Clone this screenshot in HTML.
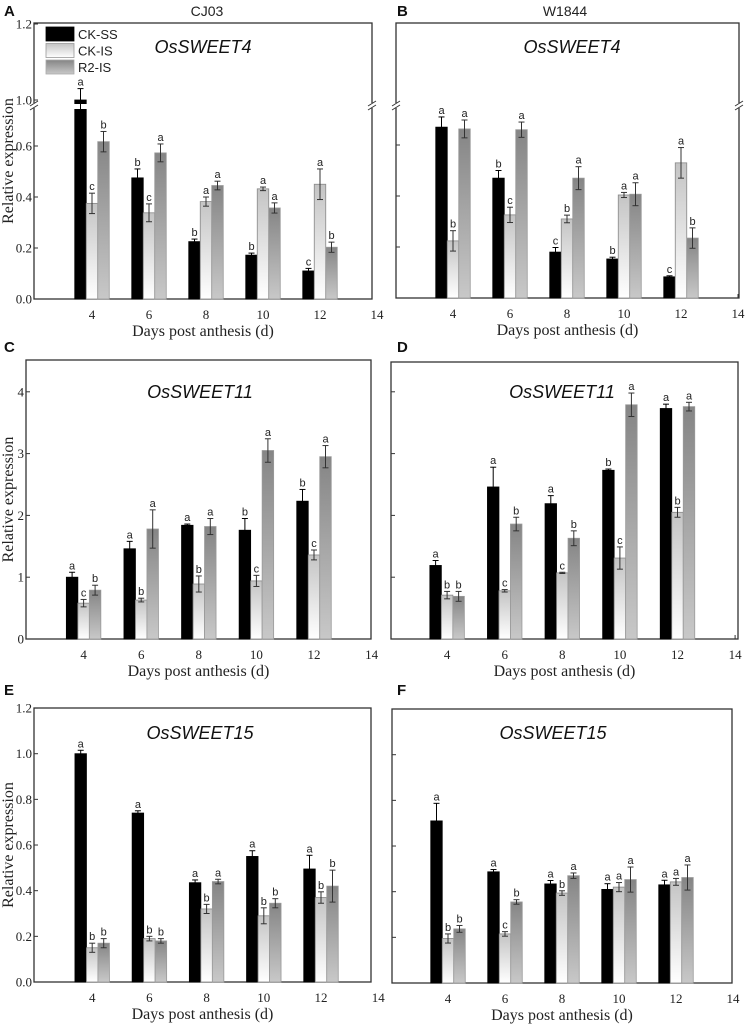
<!DOCTYPE html>
<html><head><meta charset="utf-8">
<style>
html,body{margin:0;padding:0;background:#fff;}
svg{display:block;}
.tk{font-family:"Liberation Serif",serif;font-size:13px;fill:#222;}
.ttl{font-family:"Liberation Serif",serif;font-size:16px;fill:#222;}
.lab{font-family:"Liberation Sans",sans-serif;font-size:11px;fill:#222;}
.gene{font-family:"Liberation Sans",sans-serif;font-size:18px;font-style:italic;fill:#111;}
.pl{font-family:"Liberation Sans",sans-serif;font-size:15px;font-weight:bold;fill:#111;}
.cv{font-family:"Liberation Sans",sans-serif;font-size:14px;fill:#222;}
.lg{font-family:"Liberation Sans",sans-serif;font-size:13px;fill:#222;}
</style></head><body>
<svg id="fig" width="746" height="1025" viewBox="0 0 746 1025" xmlns="http://www.w3.org/2000/svg">
<defs>
<linearGradient id="gIS" x1="0" y1="0" x2="0" y2="1"><stop offset="0" stop-color="#c4c4c4"/><stop offset="1" stop-color="#ffffff"/></linearGradient>
<linearGradient id="gR2" x1="0" y1="0" x2="0" y2="1"><stop offset="0" stop-color="#858585"/><stop offset="1" stop-color="#c8c8c8"/></linearGradient>
</defs>
<text class="pl" x="4" y="16">A</text>
<text class="cv" x="207" y="16" text-anchor="middle">CJ03</text>
<text class="pl" x="397" y="16">B</text>
<text class="cv" x="565" y="16" text-anchor="middle">W1844</text>
<text class="pl" x="4" y="352">C</text>
<text class="pl" x="397" y="352">D</text>
<text class="pl" x="4" y="695">E</text>
<text class="pl" x="397" y="695">F</text>
</svg>
<script>
// categories
const days = [4, 6, 8, 10, 12];
const xTicks = [4, 6, 8, 10, 12, 14];
const seriesNames = ["CK-SS", "CK-IS", "R2-IS"];
// Panel A (CJ03, OsSWEET4)
const aCKSS = [1.0, 0.475, 0.225, 0.172, 0.11];
const aCKIS = [0.375, 0.338, 0.382, 0.432, 0.45];
const aR2IS = [0.617, 0.573, 0.445, 0.357, 0.203];
const aErrSS = [0.03, 0.035, 0.01, 0.008, 0.01];
const aErrIS = [0.04, 0.035, 0.018, 0.007, 0.06];
const aErrR2 = [0.04, 0.035, 0.017, 0.02, 0.02];
const aLetSS = ["a","b","b","b","c"];
const aLetIS = ["c","c","a","a","a"];
const aLetR2 = ["b","a","a","a","b"];
// Panel B (W1844, OsSWEET4)
const bCKSS = [0.67, 0.47, 0.18, 0.153, 0.083];
const bCKIS = [0.224, 0.326, 0.31, 0.404, 0.53];
const bR2IS = [0.663, 0.66, 0.47, 0.407, 0.235];
const bErrSS = [0.04, 0.03, 0.018, 0.007, 0.004];
const bErrIS = [0.04, 0.03, 0.015, 0.01, 0.06];
const bErrR2 = [0.035, 0.03, 0.045, 0.045, 0.04];
const bLetSS = ["a","b","c","b","c"];
const bLetIS = ["b","c","b","a","a"];
const bLetR2 = ["a","a","a","a","b"];
// Panel C (CJ03, OsSWEET11)
const cCKSS = [1.0, 1.46, 1.84, 1.76, 2.23];
const cCKIS = [0.58, 0.63, 0.89, 0.94, 1.36];
const cR2IS = [0.79, 1.78, 1.82, 3.05, 2.95];
const cErrSS = [0.08, 0.12, 0.02, 0.19, 0.19];
const cErrIS = [0.06, 0.03, 0.13, 0.09, 0.08];
const cErrR2 = [0.08, 0.31, 0.13, 0.19, 0.18];
const cLetSS = ["a","a","a","b","b"];
const cLetIS = ["c","b","b","c","c"];
const cLetR2 = ["b","a","a","a","a"];
// Panel D (W1844, OsSWEET11)
const dCKSS = [1.19, 2.46, 2.19, 2.73, 3.73];
const dCKIS = [0.71, 0.78, 1.07, 1.31, 2.05];
const dR2IS = [0.69, 1.86, 1.63, 3.79, 3.76];
const dErrSS = [0.08, 0.32, 0.13, 0.02, 0.07];
const dErrIS = [0.06, 0.02, 0.01, 0.18, 0.08];
const dErrR2 = [0.08, 0.11, 0.12, 0.19, 0.07];
const dLetSS = ["a","a","a","b","a"];
const dLetIS = ["b","c","c","c","b"];
const dLetR2 = ["b","b","b","a","a"];
// Panel E (CJ03, OsSWEET15)
const eCKSS = [1.0, 0.74, 0.435, 0.55, 0.495];
const eCKIS = [0.15, 0.19, 0.32, 0.29, 0.37];
const eR2IS = [0.17, 0.18, 0.44, 0.345, 0.42];
const eErrSS = [0.015, 0.01, 0.012, 0.025, 0.06];
const eErrIS = [0.02, 0.01, 0.02, 0.035, 0.025];
const eErrR2 = [0.02, 0.01, 0.01, 0.02, 0.07];
const eLetSS = ["a","a","a","a","a"];
const eLetIS = ["b","b","b","b","b"];
const eLetR2 = ["b","b","a","b","b"];
// Panel F (W1844, OsSWEET15)
const fCKSS = [0.71, 0.487, 0.434, 0.41, 0.43];
const fCKIS = [0.195, 0.215, 0.394, 0.42, 0.443];
const fR2IS = [0.237, 0.355, 0.47, 0.453, 0.462];
const fErrSS = [0.077, 0.01, 0.015, 0.025, 0.02];
const fErrIS = [0.02, 0.01, 0.01, 0.02, 0.015];
const fErrR2 = [0.015, 0.01, 0.012, 0.055, 0.055];
const fLetSS = ["a","a","a","a","a"];
const fLetIS = ["b","c","b","a","a"];
const fLetR2 = ["b","b","a","a","a"];
// tick labels
const tickSweet4Low = ["0.0","0.2","0.4","0.6"];
const tickSweet4High = ["1.0","1.2"];
const tickSweet11 = ["0","1","2","3","4"];
const tickSweet15 = ["0.0","0.2","0.4","0.6","0.8","1.0","1.2"];

const svg = document.getElementById('fig');
const NS = 'http://www.w3.org/2000/svg';
function mk(tag, attrs, parent, text) {
  const e = document.createElementNS(NS, tag);
  for (const k in attrs) e.setAttribute(k, attrs[k]);
  if (text !== undefined) e.textContent = text;
  (parent || svg).appendChild(e);
  return e;
}

function panel(p) {
  const g = mk('g', {});
  
  
  const xs = v => p.x2 + (v - 2) * p.dx;
  const fr = mk('rect', {x: p.L, y: p.T, width: p.R - p.L, height: p.B - p.T, fill: 'none', stroke: '#333', 'stroke-width': 1.3}, g);
  
  
  xTicks.forEach(t => {
    const x = xs(t);
    if (x < p.R) mk('line', {x1: x, y1: p.B, x2: x, y2: p.B - 4, stroke: '#333'}, g);
    const tl = mk('text', {class: 'tk', x: x, y: p.B + 20, 'text-anchor': 'middle'}, g, String(t));
    
    
  });
  p.yTicks.forEach((t, i) => {
    const y = p.ys(t);
    mk('line', {x1: p.L, y1: y, x2: p.L + 4, y2: y, stroke: '#333'}, g);
    if (p.labels) {
      const yl = mk('text', {class: 'tk', x: p.L - 2, y: y + 4.5, 'text-anchor': 'end'}, g, p.yLabels[i]);
      
      
    }
  });
  const xt = mk('text', {class: 'ttl', x: (p.L + p.R) / 2, y: p.B + 37, 'text-anchor': 'middle'}, g, 'Days post anthesis (d)');
  
  
  if (p.labels) {
    const cy = (p.T + p.B) / 2;
    const yt = mk('text', {class: 'ttl', x: 0, y: 0, 'text-anchor': 'middle', transform: 'translate(13,' + cy + ') rotate(-90)'}, g, 'Relative expression');
    
    
  }
  const gt = mk('text', {class: 'gene', x: p.gx, y: p.gy, 'text-anchor': 'middle'}, g, p.gene);
  
  
  const w = 11.5;
  const fills = ['#000', 'url(#gIS)', 'url(#gR2)'];
  const strokes = ['#000', '#888', '#999'];
  const vals = [p.ss, p.is, p.r2], errs = [p.ess, p.eis, p.er2], lets = [p.lss, p.lis, p.lr2];
  days.forEach((d, i) => {
    for (let s = 0; s < 3; s++) {
      const cx = xs(d) + (s - 1) * w;
      const v = vals[s][i], e = errs[s][i];
      const yt = p.ys(v), y0 = p.ys(0);
      const b = mk('rect', {x: cx - w / 2, y: yt, width: w, height: y0 - yt, fill: fills[s], stroke: strokes[s], 'stroke-width': 0.8}, g);
      
      
      if (p.brk && v > p.brk.max) {
        mk('rect', {x: cx - w / 2 - 1, y: yt + 4, width: w + 2, height: 5, fill: '#fff'}, g);
      }
      const yu = p.ys(v + e), yd = p.ys(Math.max(0, v - e));
      const ec = s === 0 ? '#000' : '#333';
      mk('line', {x1: cx, y1: yu, x2: cx, y2: yd, stroke: ec, 'stroke-width': 1}, g);
      mk('line', {x1: cx - 3, y1: yu, x2: cx + 3, y2: yu, stroke: ec, 'stroke-width': 1}, g);
      if (s !== 0 || !p.brk || v <= p.brk.max) mk('line', {x1: cx - 3, y1: yd, x2: cx + 3, y2: yd, stroke: ec, 'stroke-width': 1}, g);
      const lt = mk('text', {class: 'lab', x: cx, y: yu - 3, 'text-anchor': 'middle'}, g, lets[s][i]);
      
      
    }
  });
  if (p.brk) {
    [p.L, p.R].forEach(x => {
      mk('rect', {x: x - 2, y: p.brk.y - 3, width: 4, height: 5, fill: '#fff'}, g);
      mk('line', {x1: x - 4, y1: p.brk.y, x2: x + 4, y2: p.brk.y - 5, stroke: '#333'}, g);
      mk('line', {x1: x - 4, y1: p.brk.y + 4, x2: x + 4, y2: p.brk.y - 1, stroke: '#333'}, g);
    });
  }
}

function ysBreak(y0) {
  return v => v <= 0.85 ? y0 - v * 255 : 100 - (v - 1.0) * 380;
}

panel({id:'a', L:34, R:372, T:23, B:299, x2:35, dx:28.5, ys: ysBreak(299), brk:{y:106, max:0.8},
  yTicks:[0,0.2,0.4,0.6,1.0,1.2], yLabels: tickSweet4Low.concat(tickSweet4High), labels:true,
  gene:'OsSWEET4', gx:203, gy:53,
  ss:aCKSS, is:aCKIS, r2:aR2IS, ess:aErrSS, eis:aErrIS, er2:aErrR2, lss:aLetSS, lis:aLetIS, lr2:aLetR2});
panel({id:'b', L:396, R:739, T:23, B:298, x2:396, dx:28.5, ys: ysBreak(298), brk:{y:106, max:0.8},
  yTicks:[0,0.2,0.4,0.6], yLabels: tickSweet4Low, labels:false,
  gene:'OsSWEET4', gx:572, gy:53,
  ss:bCKSS, is:bCKIS, r2:bR2IS, ess:bErrSS, eis:bErrIS, er2:bErrR2, lss:bLetSS, lis:bLetIS, lr2:bLetR2});
panel({id:'c', L:26, R:371, T:360, B:639, x2:26, dx:28.8, ys: v => 639 - v * 61.8,
  yTicks:[0,1,2,3,4], yLabels: tickSweet11, labels:true,
  gene:'OsSWEET11', gx:200, gy:398,
  ss:cCKSS, is:cCKIS, r2:cR2IS, ess:cErrSS, eis:cErrIS, er2:cErrR2, lss:cLetSS, lis:cLetIS, lr2:cLetR2});
panel({id:'d', L:391, R:738, T:362, B:639, x2:389.5, dx:28.8, ys: v => 639 - v * 61.8,
  yTicks:[0,1,2,3,4], yLabels: tickSweet11, labels:false,
  gene:'OsSWEET11', gx:562, gy:398,
  ss:dCKSS, is:dCKIS, r2:dR2IS, ess:dErrSS, eis:dErrIS, er2:dErrR2, lss:dLetSS, lis:dLetIS, lr2:dLetR2});
panel({id:'e', L:34, R:371, T:708, B:982, x2:35, dx:28.6, ys: v => 982 - v * 228.3,
  yTicks:[0,0.2,0.4,0.6,0.8,1.0,1.2], yLabels: tickSweet15, labels:true,
  gene:'OsSWEET15', gx:200, gy:739,
  ss:eCKSS, is:eCKIS, r2:eR2IS, ess:eErrSS, eis:eErrIS, er2:eErrR2, lss:eLetSS, lis:eLetIS, lr2:eLetR2});
panel({id:'f', L:392, R:732, T:709, B:983, x2:391, dx:28.5, ys: v => 983 - v * 228.3,
  yTicks:[0,0.2,0.4,0.6,0.8,1.0], yLabels: tickSweet15, labels:false,
  gene:'OsSWEET15', gx:553, gy:739,
  ss:fCKSS, is:fCKIS, r2:fR2IS, ess:fErrSS, eis:fErrIS, er2:fErrR2, lss:fLetSS, lis:fLetIS, lr2:fLetR2});

const lg = mk('g', {});


const lf = ['#000', 'url(#gIS)', 'url(#gR2)'];
const ls = ['#000', '#999', '#aaa'];
seriesNames.forEach((n, i) => {
  const y = 27 + i * 16.5;
  const r = mk('rect', {x: 46, y: y, width: 28, height: 14, fill: lf[i], stroke: ls[i], 'stroke-width': 0.8}, lg);
  
  
  const t = mk('text', {class: 'lg', x: 78, y: y + 12}, lg, n);
  
  
});
</script>
</body></html>
